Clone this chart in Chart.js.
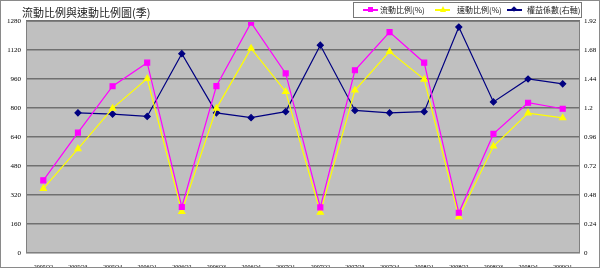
<!DOCTYPE html>
<html>
<head>
<meta charset="utf-8">
<script src="https://cdn.jsdelivr.net/npm/chart.js@4/dist/chart.umd.min.js"></script>
<style>
    body { margin: 0; background: #fff; }
    #wrap { position: relative; width: 600px; height: 268px; }
    #chart { position: absolute; left: 0; top: 0; }
    #frame { position: absolute; left: 0; top: 0; width: 598px; height: 266px; border: 1px solid #8a8a8a; pointer-events: none; }
    #title { position: absolute; left: 22px; top: 4px; font: 11px "Noto Sans CJK TC", sans-serif; color: #222; white-space: nowrap; }
    #legend { position: absolute; left: 353px; top: 2px; width: 227px; height: 14px; border: 1px solid #777; background: #fff;
        font: 8px "Noto Sans CJK TC", sans-serif; color: #222; white-space: nowrap; }
    .item { position: absolute; top: 0; height: 14px; line-height: 14px; }
    .swatch { position: absolute; top: 6px; width: 15px; height: 2px; }
    .mk { position: absolute; }
</style>
</head>
<body>
<div id="wrap">
    <canvas id="chart" width="600" height="268"></canvas>
    <div id="frame"></div>
    <div id="title">流動比例與速動比例圖(季)</div>
    <div id="legend">
        <div class="item" style="left:9px"><span class="swatch" style="background:#ff00ff"></span><span class="mk" style="left:5px;top:4px;width:5px;height:5px;background:#ff00ff"></span><span style="position:absolute;left:17px">流動比例(%)</span></div>
        <div class="item" style="left:81px"><span class="swatch" style="background:#ffff00"></span><span class="mk" style="left:5px;top:3px;width:0;height:0;border-left:3px solid transparent;border-right:3px solid transparent;border-bottom:6px solid #ffff00"></span><span style="position:absolute;left:22px">速動比例(%)</span></div>
        <div class="item" style="left:153px"><span class="swatch" style="background:#000080"></span><span class="mk" style="left:5px;top:4px;width:4px;height:4px;background:#000080;transform:rotate(45deg)"></span><span style="position:absolute;left:20px">權益係數(右軸)</span></div>
    </div>
</div>
<script>
// quarters on the x axis
const quarters = ['2005Q2', '2005Q3', '2005Q4', '2006Q1', '2006Q2', '2006Q3', '2006Q4', '2007Q1',
    '2007Q2', '2007Q3', '2007Q4', '2008Q1', '2008Q2', '2008Q3', '2008Q4', '2009Q1'];

// 流動比例(%)
const currentRatio = [401, 664, 920, 1050, 254, 921, 1271, 991, 252, 1008, 1219, 1050, 222, 657, 829, 796];
// 速動比例(%)
const quickRatio = [355, 575, 798, 962, 228, 798, 1129, 890, 224, 898, 1111, 958, 199, 589, 772, 745];
// 權益係數 (right axis)
const equityMultiplier = [null, 1.16, 1.15, 1.13, 1.65, 1.16, 1.12, 1.17, 1.72, 1.18, 1.16, 1.17, 1.87, 1.25, 1.44, 1.40];

const leftTicks = [0, 160, 320, 480, 640, 800, 960, 1120, 1280];
const rightTicks = [0, 0.24, 0.48, 0.72, 0.96, 1.2, 1.44, 1.68, 1.92];

// gray plot background + frame
const plotBg = {
    id: 'plotBg',
    beforeDraw(chart) {
        const { ctx, chartArea: a } = chart;
        ctx.save();
        ctx.fillStyle = '#c0c0c0';
        ctx.fillRect(a.left, a.top, a.right - a.left, a.bottom - a.top);
        ctx.restore();
    },
    afterDatasetsDraw(chart) {
        const { ctx, chartArea: a } = chart;
        ctx.save();
        ctx.strokeStyle = '#808080';
        ctx.lineWidth = 1;
        ctx.strokeRect(a.left + 0.5, a.top + 0.5, a.right - a.left - 1, a.bottom - a.top - 1);
        ctx.restore();
    }
};

const tickFont = { family: 'Liberation Serif', size: 7 };

new Chart(document.getElementById('chart'), {
    type: 'line',
    data: {
        labels: quarters,
        datasets: [
            {
                label: '流動比例(%)', data: currentRatio, yAxisID: 'y',
                borderColor: '#ff00ff', backgroundColor: '#ff00ff', borderWidth: 1.2,
                pointStyle: 'rect', pointRadius: 3.5, tension: 0
            },
            {
                label: '速動比例(%)', data: quickRatio, yAxisID: 'y',
                borderColor: '#ffff00', backgroundColor: '#ffff00', borderWidth: 1.2,
                pointStyle: 'triangle', pointRadius: 3.5, tension: 0
            },
            {
                label: '權益係數(右軸)', data: equityMultiplier, yAxisID: 'y1',
                borderColor: '#000080', backgroundColor: '#000080', borderWidth: 1.2,
                pointStyle: 'rectRot', pointRadius: 3, tension: 0
            }
        ]
    },
    options: {
        responsive: false,
        animation: false,
        layout: { padding: { top: 21, bottom: 0, left: 0, right: 0 } },
        plugins: {
            legend: { display: false },
            title: { display: false },
            tooltip: { enabled: false }
        },
        scales: {
            x: {
                offset: true,
                grid: { display: false, offset: true },
                border: { display: false },
                ticks: { font: { family: 'Liberation Serif', size: 6 }, color: '#000', autoSkip: false, maxRotation: 0, padding: 3 },
                afterFit(s) { s.height = 15; }
            },
            y: {
                position: 'left',
                min: 0, max: 1280,
                afterBuildTicks(s) { s.ticks = leftTicks.map(v => ({ value: v })); },
                grid: { color: '#707070', lineWidth: 1.5, drawTicks: false },
                border: { display: false },
                ticks: { font: tickFont, color: '#000', padding: 5, callback: v => String(v) },
                afterFit(s) { s.width = 26; }
            },
            y1: {
                position: 'right',
                min: 0, max: 1.92,
                afterBuildTicks(s) { s.ticks = rightTicks.map(v => ({ value: v })); },
                grid: { display: false, drawTicks: false, tickLength: 0 },
                border: { display: false },
                ticks: { font: tickFont, color: '#000', padding: 4, callback: v => String(+v.toFixed(2)) },
                afterFit(s) { s.width = 20; }
            }
        }
    },
    plugins: [plotBg]
});
</script>
</body>
</html>
